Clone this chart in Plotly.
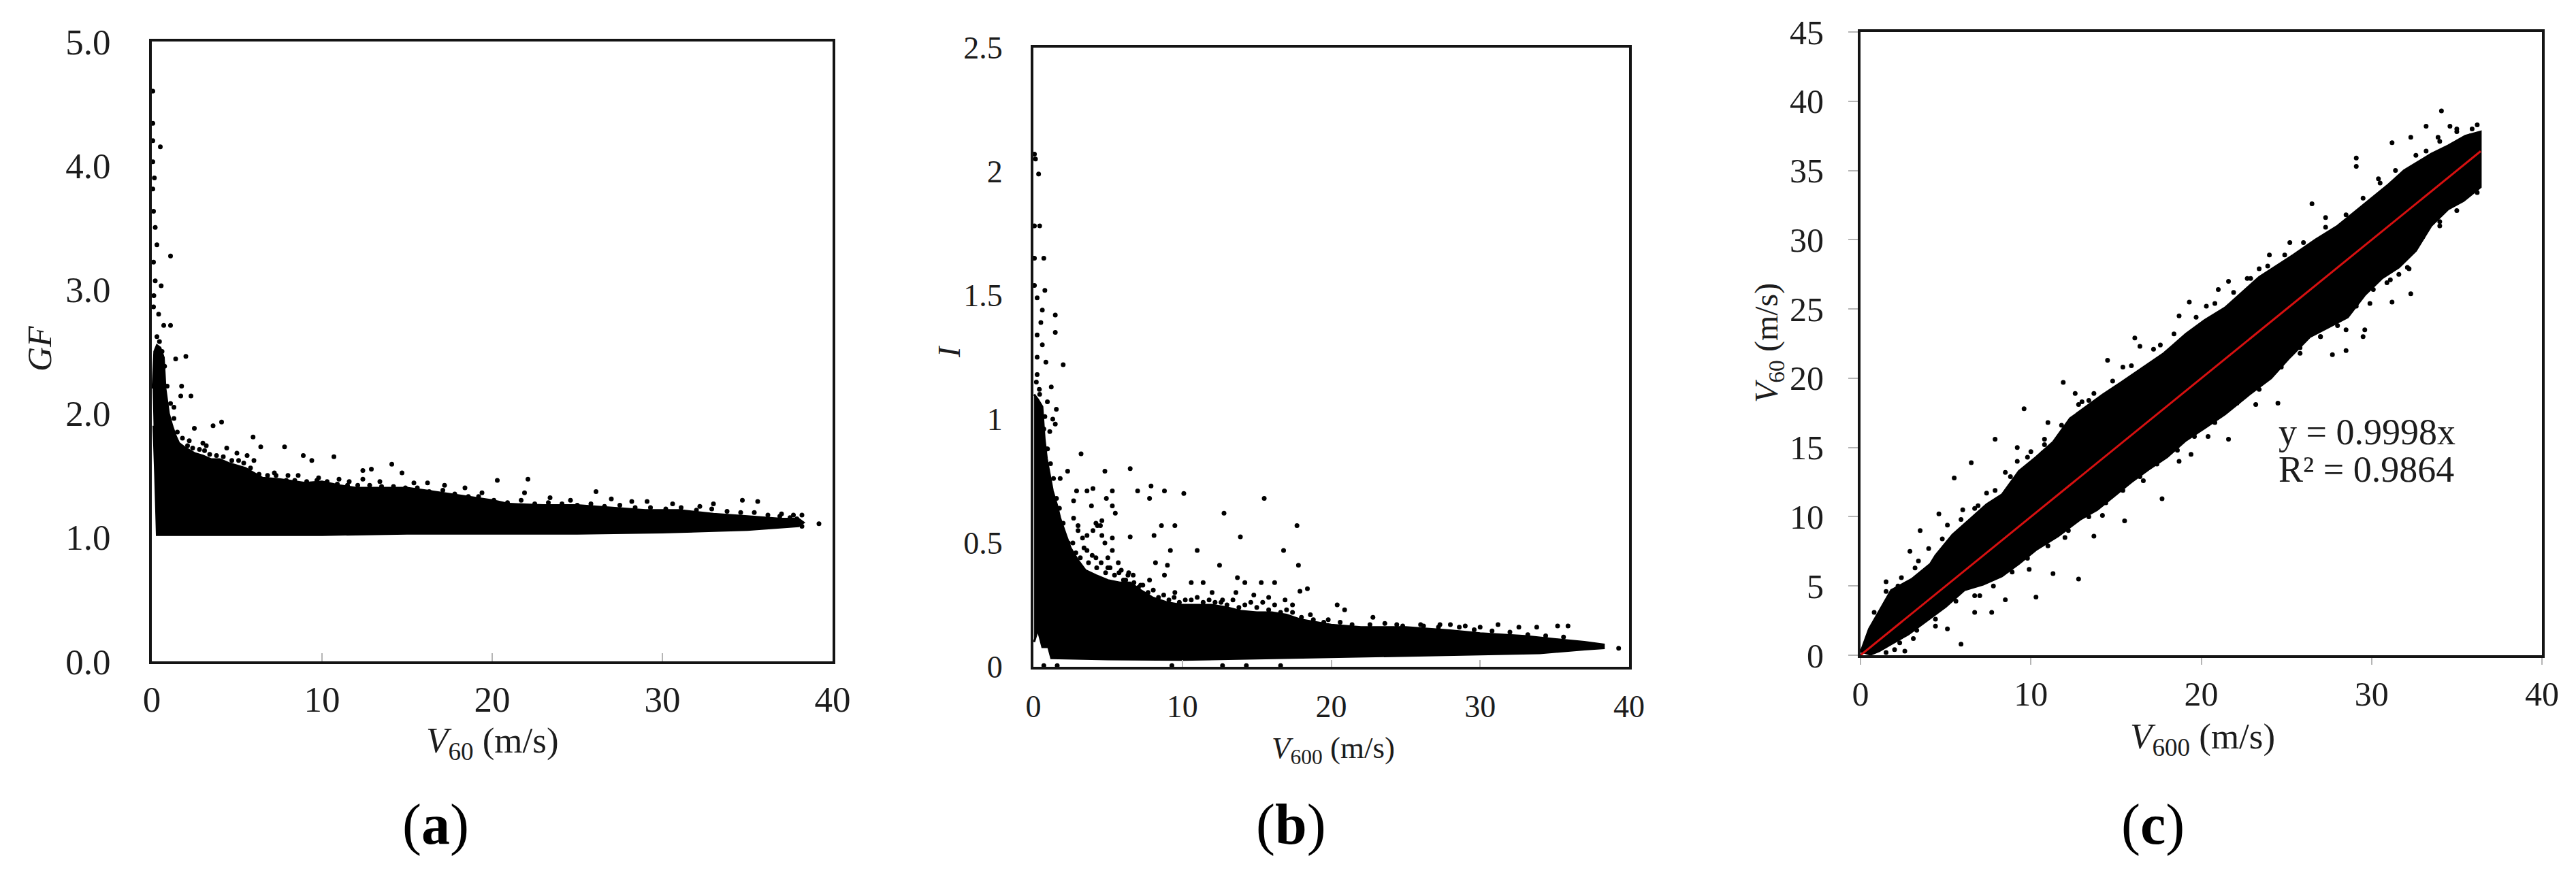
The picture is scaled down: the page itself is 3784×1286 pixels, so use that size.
import plotly.graph_objects as go

W, H = 3784, 1286
FONT = "Liberation Serif"
INK = "#1c1c1c"

# Panel (a): GF vs V60
a_band_x = [0.05,0.15,0.3,0.5,0.7,0.8,1.0,1.2,1.4,1.6,2.0,2.5,3.0,3.5,4.0,4.5,5.0,5.5,6.0,6.5,7.5,9,10,11,12,13,15,16,17,18,19,20,21,23,25,27,29,31,33,35,36,37,38,38.3,38,37,35,30,25,20,15,10,5,2,1,0.6,0.3,0.2,0.1]
a_band_y = [2.2,2.5,2.55,2.53,2.45,2.2,2.0,1.9,1.82,1.76,1.72,1.68,1.66,1.63,1.63,1.6,1.58,1.56,1.52,1.48,1.47,1.44,1.45,1.42,1.4,1.4,1.4,1.38,1.36,1.34,1.32,1.3,1.27,1.26,1.26,1.24,1.22,1.22,1.19,1.17,1.16,1.15,1.15,1.12,1.09,1.08,1.06,1.04,1.03,1.03,1.03,1.02,1.02,1.02,1.02,1.02,1.02,1.5,1.9]
a_out_x = [0.06,0.06,0.5,0.06,0.06,0.1,0.3,1.1,0.1,0.2,0.55,0.1,0.4,1.1,0.7,2.0,1.4,1.75,2.3,1.7,4.1,3.6,2.5,5.95,7.8,6.4,3.2,10.7,8.9,9.4,14.1,12.9,12.4,12.4,14.7,20.3,22.1,21.9,26.1,34.7,35.6,29.1,33.0,39.2,38.2,38.2,37.7,27.0,0.06,0.15,0.2,0.12,1.3,2.2,3.0,4.4,5.0,5.6,6.0,7.2,8.0,8.6,9.8,11.0,11.6,13.4,15.4,16.2,17.2,18.4,19.4,23.4,24.6,28.2,30.6,32.2,37.0,37.4,37.9]
a_out_y = [4.6,4.34,4.15,4.03,3.81,3.63,3.36,3.27,3.22,3.07,3.03,2.86,2.8,2.71,2.71,2.46,2.44,2.22,2.14,2.14,1.93,1.9,1.88,1.81,1.73,1.73,1.74,1.65,1.66,1.62,1.59,1.55,1.54,1.47,1.52,1.46,1.47,1.36,1.37,1.3,1.29,1.29,1.27,1.11,1.18,1.09,1.18,1.31,4.2,3.9,3.5,2.95,2.05,1.78,1.76,1.72,1.68,1.66,1.62,1.52,1.5,1.5,1.48,1.47,1.45,1.45,1.44,1.44,1.42,1.4,1.36,1.32,1.3,1.29,1.27,1.25,1.19,1.12,1.15]
a_edge_x = [0.3,0.45,0.6,0.75,0.9,1.1,1.3,1.5,1.8,2.1,2.4,2.8,3.1,3.4,3.8,4.2,4.7,5.1,5.4,5.8,6.3,6.8,7.3,7.9,8.4,9.1,9.7,10.3,10.9,11.5,12.1,12.8,13.5,14.2,14.9,15.6,16.3,17.1,17.8,18.6,19.2,20.1,20.9,21.7,22.5,23.3,24.1,25.0,25.8,26.6,27.5,28.4,29.3,30.2,31.1,32.0,32.9,33.8,34.6,35.4,36.2,36.9,37.5]
a_edge_y = [2.62,2.58,2.5,2.38,2.22,2.08,1.96,1.85,1.8,1.74,1.72,1.71,1.7,1.67,1.66,1.65,1.62,1.62,1.6,1.56,1.51,1.5,1.5,1.46,1.46,1.45,1.46,1.45,1.43,1.42,1.42,1.42,1.41,1.41,1.4,1.4,1.37,1.38,1.35,1.33,1.33,1.3,1.28,1.3,1.27,1.28,1.27,1.26,1.27,1.25,1.26,1.24,1.24,1.23,1.24,1.22,1.23,1.21,1.2,1.2,1.18,1.17,1.16]

# Panel (b): I vs V600
b_band_x = [0.05,0.3,0.6,0.75,0.9,1.1,1.3,1.6,1.8,2.2,2.5,3.0,3.5,4.2,5.0,5.8,6.5,7.2,8,9,10,11,12,13,14,15,16,17,18,19,20,22,25,28,30,33,35,37,38.3,38.3,37,34,30,25,20,15,10,5,2,1.2,1.0,0.6,0.3,0.05]
b_band_y = [1.1,1.08,1.05,0.92,0.84,0.78,0.71,0.65,0.6,0.53,0.48,0.43,0.39,0.37,0.35,0.34,0.34,0.31,0.28,0.26,0.25,0.25,0.25,0.24,0.225,0.22,0.22,0.21,0.19,0.18,0.17,0.16,0.16,0.147,0.135,0.124,0.113,0.1,0.09,0.075,0.07,0.055,0.05,0.045,0.04,0.035,0.028,0.03,0.035,0.035,0.08,0.08,0.15,0.1]
b_out_x = [0.07,0.14,0.35,0.42,0.07,0.7,0.07,0.07,0.77,0.25,1.47,0.6,0.5,1.47,0.25,2.0,0.84,0.25,1.2,0.25,0.6,1.54,1.47,0.94,0.77,0.42,3.2,4.8,6.5,2.3,1.8,2.9,4.0,3.6,5.3,7.0,7.9,8.8,10.1,15.5,7.8,4.9,2.7,3.9,5.3,5.5,12.8,17.7,9.5,8.6,3.0,4.3,4.6,6.5,8.1,13.9,3.6,4.6,5.3,11.0,9.2,16.8,3.6,5.3,5.0,8.2,12.5,17.8,9.0,5.7,6.4,8.8,7.8,6.7,10.6,11.4,9.5,13.7,14.2,15.3,16.2,18.4,17.9,13.6,12.7,12.0,14.8,15.8,16.9,17.4,18.6,20.4,19.8,20.9,22.8,35.9,35.2,32.6,33.8,31.2,39.3,28.0,29.0,0.7,1.6,9.3,12.7,14.3,16.6,4.2,4.5,4.0,4.8,3.3,3.0,2.7,4.2,5.0,5.9,6.2,7.2,24.4,26.2,27.3,30.0,0.9,1.1,1.3]
b_out_y = [2.07,2.05,1.99,1.78,1.78,1.65,1.65,1.54,1.52,1.49,1.42,1.44,1.39,1.35,1.34,1.22,1.23,1.25,1.13,1.18,1.3,1.04,0.98,1.07,1.01,1.1,0.86,0.79,0.8,0.79,0.76,0.71,0.72,0.71,0.71,0.71,0.73,0.71,0.7,0.68,0.68,0.68,0.67,0.65,0.65,0.62,0.62,0.57,0.57,0.57,0.57,0.57,0.59,0.525,0.53,0.525,0.53,0.53,0.52,0.47,0.47,0.47,0.47,0.47,0.44,0.42,0.41,0.41,0.41,0.42,0.38,0.37,0.35,0.37,0.34,0.34,0.3,0.36,0.34,0.34,0.34,0.315,0.305,0.3,0.27,0.3,0.29,0.28,0.27,0.25,0.21,0.25,0.19,0.23,0.2,0.165,0.165,0.16,0.16,0.17,0.075,0.17,0.165,0.005,0.005,0.005,0.005,0.005,0.005,0.58,0.57,0.55,0.5,0.52,0.55,0.6,0.44,0.4,0.39,0.35,0.33,0.17,0.165,0.17,0.16,0.88,0.95,1.0]
b_edge_x = [0.2,0.4,0.55,0.7,0.95,1.15,1.35,1.55,1.75,2.0,2.35,2.65,2.85,3.15,3.4,3.7,3.95,4.25,4.55,4.85,5.15,5.45,5.75,6.05,6.35,6.75,7.05,7.35,7.7,8.05,8.4,8.75,9.1,9.45,9.8,10.2,10.6,11.0,11.4,11.8,12.2,12.6,13.0,13.4,13.8,14.2,14.6,15.0,15.4,15.8,16.2,16.6,17.0,17.4,18.0,18.8,19.5,20.6,21.4,22.6,23.6,24.8,26.0,27.2,28.6,29.6,30.8,32.0,33.2,34.4,35.6]
b_edge_y = [1.15,1.12,1.0,0.96,0.88,0.82,0.76,0.68,0.64,0.58,0.5,0.5,0.46,0.44,0.48,0.42,0.45,0.4,0.42,0.38,0.4,0.37,0.38,0.35,0.37,0.34,0.32,0.33,0.3,0.31,0.28,0.29,0.27,0.28,0.26,0.27,0.27,0.28,0.26,0.27,0.26,0.26,0.25,0.27,0.24,0.25,0.26,0.24,0.26,0.23,0.25,0.22,0.23,0.22,0.2,0.19,0.18,0.18,0.17,0.17,0.175,0.165,0.17,0.16,0.16,0.15,0.145,0.14,0.13,0.125,0.12]

# Panel (c): V60 vs V600
c_band_x = [0,0.5,1.2,1.8,3.0,4.1,4.4,5.4,6.4,7.4,8.3,9.3,10.3,11.3,12.3,13.2,14.2,15.3,16.5,17.8,19.1,20.2,21.4,22.4,23.4,24.4,25.4,26.7,28,29,30,31,31.9,33.5,34.5,35.5,36.4,36.4,35.4,34.5,33.5,32.6,31.6,30.6,29.6,28.6,27.5,26.4,25.2,24.1,22.8,21.4,20.2,19.1,18,16.9,15.9,14.9,13.9,12.9,11.6,10.3,9.3,8.3,7.2,6.1,5,3.8,2.8,1.8,1.1,0.5]
c_band_y = [0.2,1.9,3.4,4.7,5.5,6.6,7.2,8.7,9.8,10.9,11.6,13.3,14.3,15.4,17.1,17.9,18.8,19.7,20.7,21.8,23.2,24.2,25.1,26.2,27.3,28.1,28.9,30,31,32,33,34,35,36.2,36.8,37.5,37.8,33.8,32.8,32.2,31,29.2,28,27.2,26,24.4,23.7,23,21.5,20,18.8,17.4,16.4,15.5,14.3,13.4,12.5,11.5,10.5,9.8,8.6,7.6,6.6,5.7,5.1,4.7,3.5,2.4,1.5,0.8,0.3,0]
c_out_x = [34.1,29.1,29.1,33.2,31.2,32.3,34.6,36.2,26.5,23.4,21.6,19.3,20.3,18.7,16.1,16.4,11.9,9.6,7.9,6.5,5.5,4.6,3.5,2.9,1.5,14.5,13.4,11.0,9.2,8.5,6.7,5.1,32.3,31.2,29.6,28.5,27.7,28.5,24.5,21.6,17.7,18.7,15.5,13.7,12.8,11.3,10.3,5.9,8.5,6.7,5.1,7.7,2.6,36.2,35.4,34.5,34.0,33.2,32.2,31.6,29.5,35.0,35.8,33.9,30.4,27.3,25.2,24.0,22.7,21.0,17.6,15.4,13.0,12.6,10.8,10.0,7.4,6.0,4.0,2.2,3.2,30.9,29.9,27.0,25.8,23.2,20.4,19.4,16.6,14.2,12.0,9.9,7.0,4.4,3.1,2.0,9.2,10.7,34.8,36.0,35.2,33.4]
c_out_y = [39.3,35.9,35.3,38.2,37.0,37.4,38.2,38.3,32.6,27.9,27.0,25.5,25.2,24.5,22.9,22.3,19.7,17.8,15.6,13.9,12.8,10.2,9.0,7.5,5.3,21.3,18.4,16.8,15.0,13.2,10.6,9.4,26.1,25.5,23.5,23.5,21.7,22.0,18.2,15.6,11.3,14.0,9.7,8.6,5.5,5.9,4.2,0.8,4.0,3.1,1.9,3.1,0.3,33.4,33.4,32.4,31.3,31.3,27.9,27.5,23.0,38.0,37.5,37.4,34.4,31.6,29.8,28.9,27.2,26.4,22.4,20.8,18.3,18.9,15.6,14.7,11.7,10.5,7.7,5.0,6.3,26.9,25.4,23.0,21.8,18.1,15.8,14.5,12.6,10.1,8.5,6.2,4.3,2.1,1.2,0.4,14.0,14.6,36.4,36.2,35.4,35.9]
c_edge_x = [0.8,1.5,2.4,3.4,4.8,5.9,6.9,7.9,8.8,9.8,10.8,11.8,12.8,13.7,14.8,15.9,17.2,18.4,19.7,20.8,21.9,22.9,23.9,24.9,26.0,27.3,28.5,29.5,30.5,31.4,32.6,33.2,34.0,35.0,35.9,1.5,2.3,3.3,4.4,5.6,6.7,7.8,8.9,9.8,11.0,12.2,13.4,14.4,15.4,16.4,17.4,18.6,19.6,20.8,22.1,23.4,24.7,25.8,27.0,28.0,29.1,30.1,31.1,32.1,33.0,34.0,35.0]
c_edge_y = [3.1,4.6,5.6,6.8,8.4,9.8,10.8,11.9,12.9,14.3,15.2,16.6,18.1,18.9,19.8,20.9,22.1,23.2,24.4,25.4,26.2,27.2,28.1,28.9,29.8,30.9,31.8,33.0,34.1,35.0,36.1,36.4,37.1,37.8,38.0,0.2,0.9,1.8,2.6,3.9,4.3,5.0,6.0,7.0,7.9,9.0,10.0,11.0,11.9,12.9,13.8,14.8,15.8,16.8,18.2,19.2,20.8,22.2,23.0,23.8,25.2,26.4,27.1,28.0,30.2,31.0,32.1]
c_fit_x = [0, 36.4]
c_fit_y = [0, 36.39]

x_ticks = [0, 10, 20, 30, 40]
a_y_ticks = [0, 1, 2, 3, 4, 5]
a_y_labels = ["0.0", "1.0", "2.0", "3.0", "4.0", "5.0"]
b_y_ticks = [0, 0.5, 1, 1.5, 2, 2.5]
b_y_labels = ["0", "0.5", "1", "1.5", "2", "2.5"]
c_y_ticks = [0, 5, 10, 15, 20, 25, 30, 35, 40, 45]

fig = go.Figure()

def panel(i, bx, by, ox, oy):
    suf = "" if i == 1 else str(i)
    fig.add_trace(go.Scatter(x=bx, y=by, mode="lines", fill="toself", fillcolor="#000000",
                             line=dict(color="#000000", width=3), hoverinfo="skip",
                             xaxis="x" + suf, yaxis="y" + suf, showlegend=False))
    fig.add_trace(go.Scatter(x=ox, y=oy, mode="markers", marker=dict(color="#000000", size=7),
                             xaxis="x" + suf, yaxis="y" + suf, showlegend=False))

panel(1, a_band_x, a_band_y, a_out_x + a_edge_x, a_out_y + a_edge_y)
panel(2, b_band_x, b_band_y, b_out_x + b_edge_x, b_out_y + b_edge_y)
panel(3, c_band_x, c_band_y, c_out_x + c_edge_x, c_out_y + c_edge_y)
fig.add_trace(go.Scatter(x=c_fit_x, y=c_fit_y, mode="lines", line=dict(color="#d61010", width=3),
                         xaxis="x3", yaxis="y3", showlegend=False))

def xax(l, r, anchor, size, standoff, ticks, ticklen):
    return dict(domain=[l / W, r / W], range=[0, 40], anchor=anchor, tickvals=x_ticks, automargin=False,
                showgrid=False, zeroline=False, showline=True, mirror=True,
                linecolor="#141414", linewidth=4, ticks=ticks, ticklen=ticklen, tickwidth=2,
                tickcolor="#b5b5b5", ticklabelstandoff=standoff,
                tickfont=dict(family=FONT, size=size, color=INK))

def yax(t, b, anchor, rng, vals, text, size, standoff, ticks, ticklen):
    return dict(domain=[1 - b / H, 1 - t / H], range=rng, anchor=anchor, tickvals=vals, ticktext=text,
                automargin=False, showgrid=False, zeroline=False, showline=True, mirror=True,
                linecolor="#141414", linewidth=4, ticks=ticks, ticklen=ticklen, tickwidth=2,
                tickcolor="#b5b5b5", ticklabelstandoff=standoff,
                tickfont=dict(family=FONT, size=size, color=INK))

fig.update_layout(
    width=W, height=H, margin=dict(l=0, r=0, t=0, b=0),
    paper_bgcolor="white", plot_bgcolor="white", showlegend=False,
    xaxis=xax(223, 1223, "y", 53, 6, "inside", 12),
    yaxis=yax(61, 972, "x", [0, 5], a_y_ticks, a_y_labels, 53, 46, "", 0),
    xaxis2=xax(1518, 2393, "y2", 46, 15, "inside", 10),
    yaxis2=yax(70, 980, "x2", [0, 2.5], b_y_ticks, b_y_labels, 46, 32, "", 0),
    xaxis3=xax(2733, 3734, "y3", 50, 0, "outside", 10),
    yaxis3=yax(47, 963, "x3", [0, 45], c_y_ticks, [str(v) for v in c_y_ticks], 50, 26, "outside", 14),
)

def label(px, py, text, size, angle=0, color=INK):
    fig.add_annotation(xref="paper", yref="paper", x=px / W, y=1 - py / H, showarrow=False,
                       xanchor="center", yanchor="middle",
                       text=text, textangle=angle, font=dict(family=FONT, size=size, color=color))

label(723, 1092, "<i>V</i><sub>60</sub> (m/s)", 53)
label(58, 513, "<i>GF</i>", 50, -90)
label(1958, 1102, "<i>V</i><sub>600</sub> (m/s)", 45)
label(1394, 517, "<i>I</i>", 46, -90)
label(3235, 1086, "<i>V</i><sub>600</sub> (m/s)", 53)
label(2598, 504, "<i>V</i><sub>60</sub> (m/s)", 48, -90)
label(640, 1212, "(<b>a</b>)", 84, color="#000000")
label(1896, 1212, "(<b>b</b>)", 84, color="#000000")
label(3162, 1212, "(<b>c</b>)", 84, color="#000000")

fig.add_annotation(xref="x3", yref="y3", x=24.46, y=16.13, xanchor="left", yanchor="middle", showarrow=False,
                   text="y = 0.9998x", font=dict(family=FONT, size=54, color=INK))
fig.add_annotation(xref="x3", yref="y3", x=24.46, y=13.43, xanchor="left", yanchor="middle", showarrow=False,
                   text="R² = 0.9864", font=dict(family=FONT, size=54, color=INK))

fig.write_html("out.html", config={"displayModeBar": False},
               post_script="document.body.style.margin='0';")
